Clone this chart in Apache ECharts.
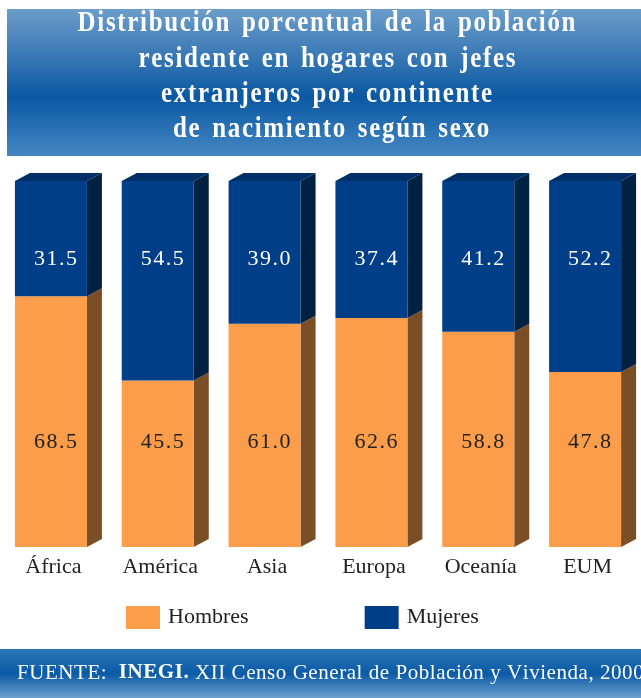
<!DOCTYPE html>
<html>
<head>
<meta charset="utf-8">
<script src="https://cdn.jsdelivr.net/npm/echarts@6/dist/echarts.min.js"></script>
<style>
  html, body { margin: 0; padding: 0; background: #fff; }
  #chart { width: 641px; height: 698px; }
</style>
</head>
<body>
<div id="chart"></div>
<script>
// Distribución porcentual por continente de nacimiento del jefe, según sexo
const categories = ['África', 'América', 'Asia', 'Europa', 'Oceanía', 'EUM'];
const hombres = [68.5, 45.5, 61.0, 62.6, 58.8, 47.8];
const mujeres = [31.5, 54.5, 39.0, 37.4, 41.2, 52.2];

const titleLines = [
  'Distribución porcentual de la población',
  'residente en hogares con jefes',
  'extranjeros por continente',
  'de nacimiento según sexo'
];
const sourceRuns = [
  ['FUENTE:', false],
  ['  ', false],
  ['INEGI.', true],
  [' XII Censo General de Población y Vivienda, 2000', false]
];

const SERIF = '"Liberation Serif", "DejaVu Serif", serif';

// Faces of the extruded bars
const palette = {
  Hombres: { front: '#FB9D4A', side: '#7A4F26', top: '#B8722F', text: '#222222' },
  Mujeres: { front: '#003F88', side: '#002142', top: '#002E66', text: '#FFFFFF' }
};
const DEPTH_X = 15, DEPTH_Y = -8;            // extrusion offset in px
const FRONT_LEFT = 38.5, FRONT_RIGHT = 33.5; // front face extent around band center
const LABEL_LEVEL = { Hombres: 28.7, Mujeres: 78.7 }; // label height on the 0–100 scale

// Letter-spaced text: one text element per glyph, positioned from measured widths
const measureCtx = document.createElement('canvas').getContext('2d');
function spacedRuns(runs, opts) {
  const { spacing = 0, wordExtra = 0, x, y, align = 'left', fill, z = 1, scaleX = 1 } = opts;
  const glyphs = [];
  runs.forEach(([str, font]) => {
    measureCtx.font = font;
    for (const ch of str) {
      glyphs.push({ ch, font,
        w: measureCtx.measureText(ch).width * scaleX + spacing + (ch === ' ' ? wordExtra : 0) });
    }
  });
  const total = glyphs.reduce((a, g) => a + g.w, 0) - spacing;
  let cx = align === 'center' ? x - total / 2 : x;
  return glyphs.map(g => {
    const el = { type: 'text', x: cx, y: y, z: z, scaleX: scaleX,
      style: { text: g.ch, font: g.font, fill: fill, align: 'left', verticalAlign: 'middle' } };
    cx += g.w;
    return el;
  });
}

function makeRender(name, isTop) {
  const c = palette[name];
  return function (params, api) {
    const idx = api.value(0);
    const p0 = api.coord([idx, api.value(1)]);
    const p1 = api.coord([idx, api.value(2)]);
    const xl = p0[0] - FRONT_LEFT, xr = p0[0] + FRONT_RIGHT;
    const yb = p0[1], yt = p1[1];
    const children = [
      { type: 'polygon', shape: { points: [[xr, yb], [xr + DEPTH_X, yb + DEPTH_Y], [xr + DEPTH_X, yt + DEPTH_Y], [xr, yt]] },
        style: { fill: c.side } },
      { type: 'rect', shape: { x: xl, y: yt, width: xr - xl, height: yb - yt }, style: { fill: c.front } }
    ];
    if (isTop) {
      children.push({ type: 'polygon',
        shape: { points: [[xl, yt], [xl + DEPTH_X, yt + DEPTH_Y], [xr + DEPTH_X, yt + DEPTH_Y], [xr, yt]] },
        style: { fill: c.top } });
    }
    const ly = api.coord([idx, LABEL_LEVEL[name]])[1];
    const label = spacedRuns([[api.value(3).toFixed(1), '22px ' + SERIF]],
      { spacing: 1.5, x: p0[0] + 2, y: ly, align: 'center', fill: c.text, z: 2 });
    return { type: 'group', children: children.concat(label) };
  };
}

const hombresData = categories.map((_, i) => [i, 0, hombres[i], hombres[i]]);
const mujeresData = categories.map((_, i) => [i, hombres[i], hombres[i] + mujeres[i], mujeres[i]]);

const titleFont = 'bold 29px ' + SERIF;
const titleY = [24, 59.5, 95, 130];
const titleX = [326.5, 327, 326.5, 331];
const titleGraphics = titleLines.flatMap((line, i) =>
  spacedRuns([[line, titleFont]],
    { spacing: 1.7, wordExtra: 3, scaleX: 0.86, x: titleX[i], y: titleY[i], align: 'center', fill: '#ffffff', z: 2 }));

const sourceGraphics = spacedRuns(
  sourceRuns.map(([t, bold]) => [t, (bold ? 'bold ' : '') + '21px ' + SERIF]),
  { spacing: 0.55, x: 17, y: 673, align: 'left', fill: '#ffffff', z: 2 });

const chart = echarts.init(document.getElementById('chart'), null, { renderer: 'canvas' });
chart.setOption({
  animation: false,
  backgroundColor: '#ffffff',
  grid: { left: 0, width: 642, top: 181, bottom: 151, containLabel: false },
  xAxis: {
    type: 'category', data: categories,
    axisLine: { show: false }, axisTick: { show: false },
    axisLabel: { color: '#222222', fontFamily: SERIF, fontSize: 22, margin: 9 }
  },
  yAxis: { type: 'value', min: 0, max: 100, show: false, splitLine: { show: false } },
  legend: {
    left: 121, top: 601, itemWidth: 34, itemHeight: 23, itemGap: 116,
    icon: 'rect',
    textStyle: { fontFamily: SERIF, fontSize: 22, color: '#222222', padding: [0, 0, 0, 3] },
    data: [
      { name: 'Hombres', itemStyle: { color: palette.Hombres.front } },
      { name: 'Mujeres', itemStyle: { color: palette.Mujeres.front } }
    ]
  },
  series: [
    { name: 'Hombres', type: 'custom', renderItem: makeRender('Hombres', false),
      itemStyle: { color: palette.Hombres.front }, encode: { x: 0, y: [1, 2] }, data: hombresData },
    { name: 'Mujeres', type: 'custom', renderItem: makeRender('Mujeres', true),
      itemStyle: { color: palette.Mujeres.front }, encode: { x: 0, y: [1, 2] }, data: mujeresData }
  ],
  graphic: [
    { type: 'rect', left: 7, top: 9, shape: { width: 634, height: 147 }, z: 0,
      style: { fill: new echarts.graphic.LinearGradient(0, 0, 0, 1, [
        { offset: 0, color: '#6C9DCA' }, { offset: 0.6, color: '#0B58A2' }, { offset: 1, color: '#4587C3' }]) } },
    { type: 'rect', left: 0, top: 649, shape: { width: 641, height: 49 }, z: 0,
      style: { fill: new echarts.graphic.LinearGradient(0, 0, 0, 1, [
        { offset: 0, color: '#2C77B8' }, { offset: 0.5, color: '#0A5AA5' }, { offset: 1, color: '#6E9FCF' }]) } }
  ].concat(titleGraphics, sourceGraphics)
});
</script>
</body>
</html>
